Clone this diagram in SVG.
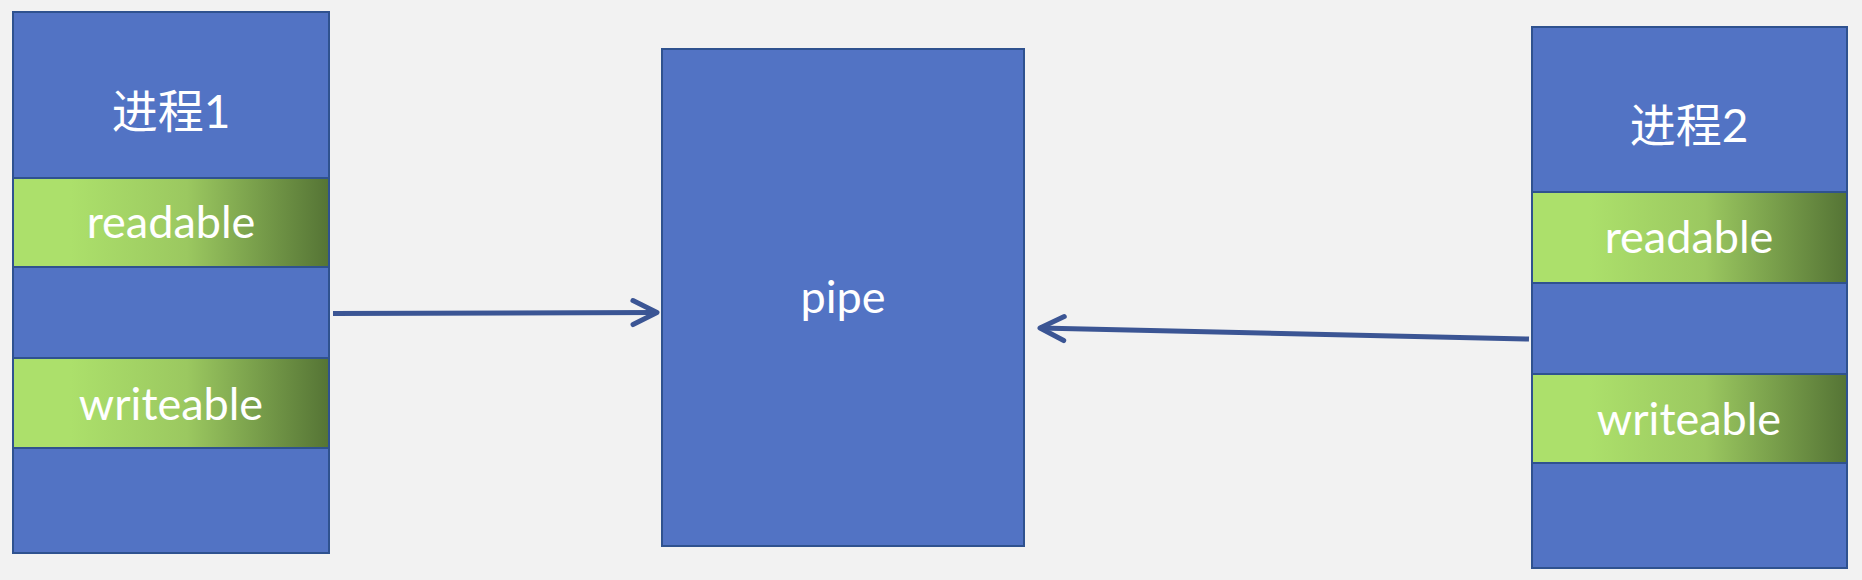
<svg xmlns="http://www.w3.org/2000/svg" width="1862" height="580" viewBox="0 0 1862 580">
<style>
.bg{fill:#f2f2f2}
.box{fill:#5273c4;stroke:#2f528f;stroke-width:2}
.slot{fill:url(#g);stroke:#2f528f;stroke-width:2}
.t{fill:#ffffff;font-family:Lato,"Noto Sans CJK SC",sans-serif;font-size:45px;text-anchor:middle}
.c{fill:#ffffff;font-family:Lato,"Noto Sans CJK SC",sans-serif;font-size:46px;text-anchor:middle}
.conn{stroke:#3b5594;stroke-width:5;fill:none;marker-end:url(#arr)}
</style>
<defs>
<linearGradient id="g" x1="0" y1="0" x2="1" y2="0">
<stop offset="0" stop-color="#ace06b"/>
<stop offset="0.18" stop-color="#ace06b"/>
<stop offset="0.55" stop-color="#9bc860"/>
<stop offset="1" stop-color="#557435"/>
</linearGradient>
<marker id="arr" markerUnits="userSpaceOnUse" viewBox="-30 -16 34 32" refX="0" refY="0" markerWidth="34" markerHeight="32" orient="auto">
<path d="M-24,-12 L0,0 L-24,12" fill="none" stroke="#3b5594" stroke-width="5" stroke-linecap="round" stroke-linejoin="round"/>
</marker>
</defs>
<rect class="bg" x="0" y="0" width="1862" height="580"/>
<g id="process1">
<rect class="box" x="13" y="12" width="316" height="541"/>
<rect class="slot" x="13" y="178" width="316" height="89"/>
<rect class="slot" x="13" y="358" width="316" height="90"/>
<text class="c" x="171" y="128">进程1</text>
<text class="t" x="171" y="238">readable</text>
<text class="t" x="171" y="420">writeable</text>
</g>
<g id="pipe">
<rect class="box" x="662" y="49" width="362" height="497"/>
<text class="t" x="843" y="313">pipe</text>
</g>
<g id="process2">
<rect class="box" x="1532" y="27" width="315" height="541"/>
<rect class="slot" x="1532" y="192" width="315" height="91"/>
<rect class="slot" x="1532" y="374" width="315" height="89"/>
<text class="c" x="1689" y="142">进程2</text>
<text class="t" x="1689" y="253">readable</text>
<text class="t" x="1689" y="435">writeable</text>
</g>
<g id="connectors">
<path class="conn" d="M333,313.5 L657,312.5"/>
<path class="conn" d="M1529,339 L1040,328"/>
</g>
</svg>
